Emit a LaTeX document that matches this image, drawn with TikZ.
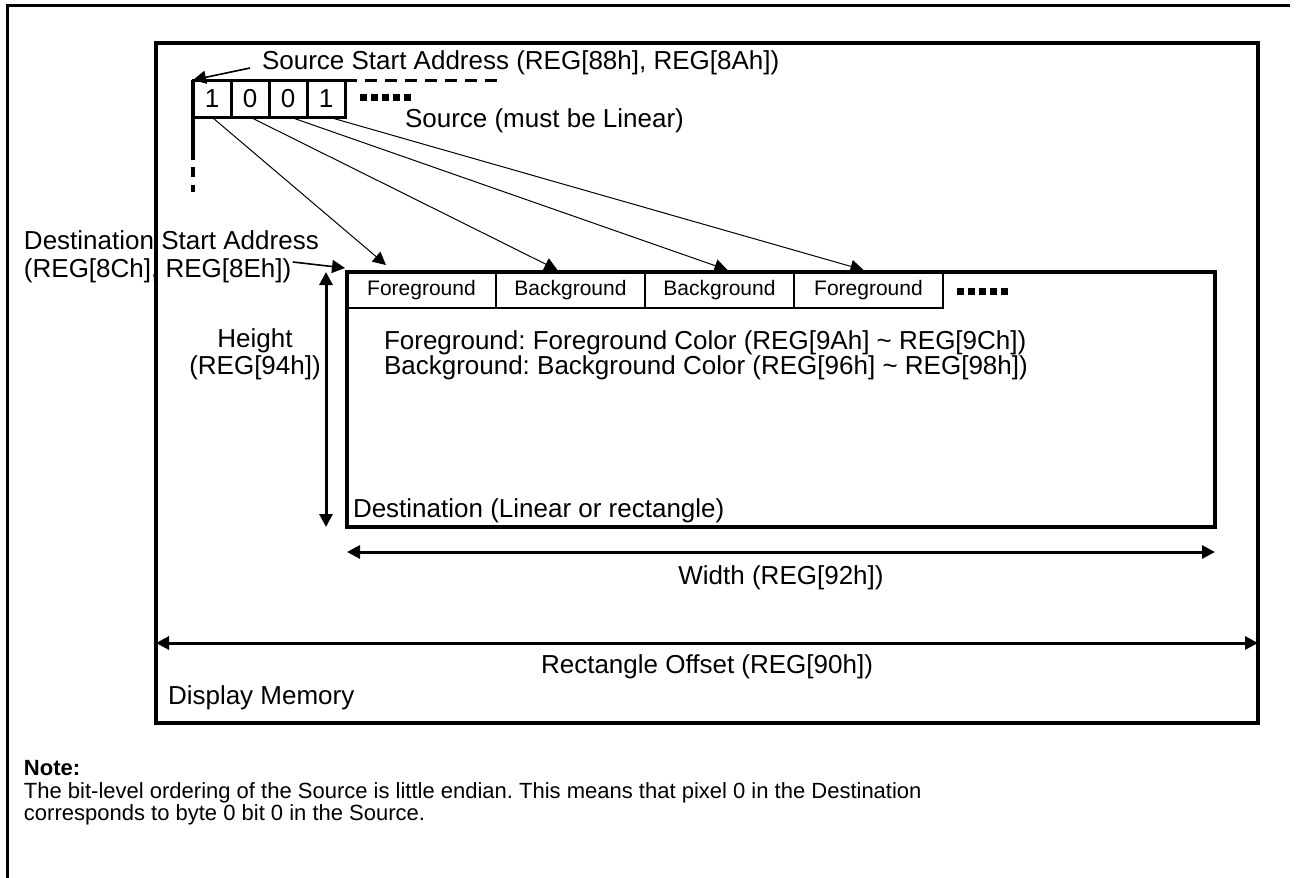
\documentclass[tikz,border=0pt]{standalone}
\usepackage{fontspec}
\setmainfont{Liberation Sans}
\usetikzlibrary{arrows.meta, positioning}
\frenchspacing

\begin{document}
\begin{tikzpicture}[
  x=0.5pt, y=-0.5pt,
  every node/.style={inner sep=0pt, outer sep=0pt},
  txt/.style={font=\fontsize{13}{14}\selectfont},
  srccell/.style={rectangle, draw, line width=1.5pt, minimum width=19pt,
                  minimum height=18.5pt, font=\fontsize{13}{14}\selectfont},
  dstcell/.style={rectangle, draw, line width=1pt, minimum width=74.5pt,
                  minimum height=18pt, font=\fontsize{10.5}{12}\selectfont},
  bigbox/.style={rectangle, draw, line width=2pt, anchor=north west},
  map/.style={-{Triangle[length=6.5pt,width=6.5pt]}, line width=0.5pt},
  dim/.style={{Triangle[length=6.5pt,width=6.5pt]}-{Triangle[length=6.5pt,width=6.5pt]},
              line width=1.5pt},
  dots/.style={line width=3.5pt, dash pattern=on 3.5pt off 2pt}
]
\useasboundingbox (0,0) rectangle (1301,878);

% outer frame
\draw[line width=1.5pt] (7,878) -- (7,5) -- (1290,5);

% display memory
\node[bigbox, minimum width=551pt, minimum height=340pt] (mem) at (156,43) {};
\node[txt, anchor=west] (memlabel) at (168,698) {Display Memory};

% source
\node[srccell, anchor=north west] (s0) at (193,80) {1};
\node[srccell, right=0pt of s0] (s1) {0};
\node[srccell, right=0pt of s1] (s2) {0};
\node[srccell, right=0pt of s2] (s3) {1};
\draw[line width=1.5pt, dash pattern=on 6pt off 4pt] (s3.north east) -- (500,80);
\draw[dots] (360,97) -- (413,97);
\draw[line width=1.6pt] (s0.north west) -- (193,160);
\draw[line width=1.6pt, dash pattern=on 5pt off 4pt] (193,167) -- (193,192);
\node[txt, anchor=west] (srcstart) at (262,63) {Source Start Address (REG[88h], REG[8Ah])};
\node[txt, anchor=west] (srclabel) at (405,121) {Source (must be Linear)};
\draw[map, line width=0.8pt] ([shift={(-12,5)}]srcstart.west) -- (s0.north west);

% destination
\node[bigbox, minimum width=434pt, minimum height=127.5pt] (dest) at (347,272) {};
\node[dstcell, anchor=north west] (d0) at (dest.north west) {Foreground};
\node[dstcell, right=0pt of d0] (d1) {Background};
\node[dstcell, right=0pt of d1] (d2) {Background};
\node[dstcell, right=0pt of d2] (d3) {\raisebox{-2pt}{Foreground}};
\draw[dots] (957,291) -- (1010,291);
\node[txt, anchor=west] (fgnote) at (384,343)
     {Foreground: Foreground Color (REG[9Ah] \textasciitilde{} REG[9Ch])};
\node[txt, anchor=west] (bgnote) at (384,368)
     {Background: Background Color (REG[96h] \textasciitilde{} REG[98h])};
\node[txt, anchor=west] (destlabel) at (353,511) {Destination (Linear or rectangle)};

\node[txt, anchor=west, align=left] (dstaddr) at (24,257)
     {Destination Start Address\\(REG[8Ch], REG[8Eh])};
\draw[map, line width=0.8pt] ([shift={(-26,5)}]dstaddr.east) -- ([shift={(-2,-4)}]dest.north west);

% bit to pixel mapping
\draw[map] ([shift={(1,1)}]s0.south) -- ([shift={(39,-7)}]d0.north west);
\draw[map] ([shift={(2,1)}]s1.south) -- ([shift={(-13,-2)}]d1.north);
\draw[map] ([shift={(5,1)}]s2.south) -- ([shift={(8,-2)}]d2.north);
\draw[map] ([shift={(6,1)}]s3.south) -- ([shift={(-5,-2)}]d3.north);

% dimensions
\coordinate (hx) at (326,0);
\draw[dim] (dest.north west -| hx) -- (dest.south west -| hx);
\node[txt, align=center, font=\fontsize{13}{13.5}\selectfont] (hlabel) at (255,354)
     {Height\\(REG[94h])};
\draw[dim] ([shift={(0,25)}]dest.south west) -- ([shift={(0,25)}]dest.south east);
\node[txt] (wlabel) at ([shift={(0,51)}]dest.south) {Width (REG[92h])};
\draw[dim] ([shift={(0,-80)}]mem.south west) -- ([shift={(0,-80)}]mem.south east);
\node[txt] (olabel) at ([shift={(0,-56)}]mem.south) {Rectangle Offset (REG[90h])};

% note
\node[anchor=west, font=\bfseries\fontsize{11}{13}\selectfont] (note) at (24,768) {Note:};
\node[anchor=west, font=\fontsize{11}{13}\selectfont] (note1) at (24,793)
     {The bit-level ordering of the Source is little endian. This means that pixel 0 in the Destination};
\node[anchor=west, font=\fontsize{11}{13}\selectfont] (note2) at (24,815)
     {corresponds to byte 0 bit 0 in the Source.};
\end{tikzpicture}
\end{document}
